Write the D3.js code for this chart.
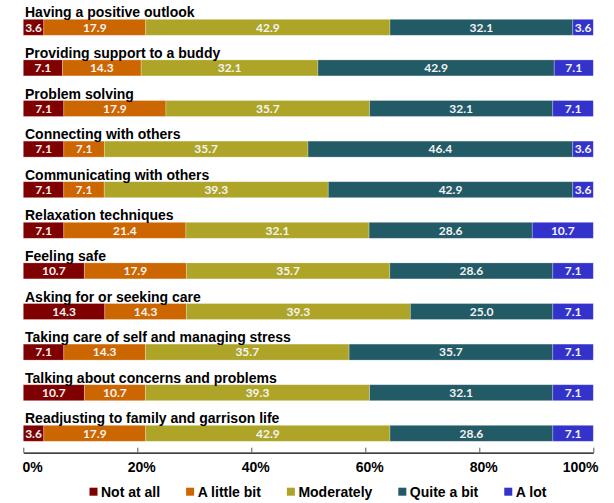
<!DOCTYPE html>
<html>
<head>
<meta charset="utf-8">
<script src="https://cdn.jsdelivr.net/npm/d3@7"></script>
<style>
  body { margin: 0; background: #fff; }
  .row-label { font-family: "Liberation Sans", Arial, sans-serif; font-weight: bold; font-size: 14px; fill: #000; }
  .value-label { font-family: Lato, "Open Sans", sans-serif; font-weight: bold; font-size: 12px; fill: #f4f4f4; }
  .axis text { font-family: "Liberation Sans", Arial, sans-serif; font-weight: bold; font-size: 14px; fill: #000; }
  .legend text { font-family: "Liberation Sans", Arial, sans-serif; font-weight: bold; font-size: 14px; fill: #000; }
</style>
</head>
<body>
<div id="chart"></div>
<script>
const width = 614, height = 503;

// categories (top to bottom)
const items = [
  "Having a positive outlook",
  "Providing support to a buddy",
  "Problem solving",
  "Connecting with others",
  "Communicating with others",
  "Relaxation techniques",
  "Feeling safe",
  "Asking for or seeking care",
  "Taking care of self and managing stress",
  "Talking about concerns and problems",
  "Readjusting to family and garrison life"
];

// series
const levels = ["Not at all", "A little bit", "Moderately", "Quite a bit", "A lot"];
const notAtAll   = [3.6, 7.1, 7.1, 7.1, 7.1, 7.1, 10.7, 14.3, 7.1, 10.7, 3.6];
const littleBit  = [17.9, 14.3, 17.9, 7.1, 7.1, 21.4, 17.9, 14.3, 14.3, 10.7, 17.9];
const moderately = [42.9, 32.1, 35.7, 35.7, 39.3, 32.1, 35.7, 39.3, 35.7, 39.3, 42.9];
const quiteABit  = [32.1, 42.9, 32.1, 46.4, 42.9, 28.6, 28.6, 25.0, 35.7, 32.1, 28.6];
const aLot       = [3.6, 7.1, 7.1, 3.6, 3.6, 10.7, 7.1, 7.1, 7.1, 7.1, 7.1];

// tick labels
const xTicks = [0, 0.2, 0.4, 0.6, 0.8, 1];

const colors = ["#7f0000", "#cc6600", "#ada428", "#225a66", "#3333cc"];

// table for d3.stack
const series = [notAtAll, littleBit, moderately, quiteABit, aLot];
const table = items.map((name, i) => {
  const row = {name: name};
  levels.forEach((l, k) => row[l] = series[k][i]);
  return row;
});

const svg = d3.select("#chart")
  .append("svg")
    .attr("width", width)
    .attr("height", height);

const x = d3.scaleLinear()
  .domain([0, 1])
  .range([23.3, 593.3]);

const y = d3.scaleBand()
  .domain(items)
  .range([19.3, 441.3])
  .paddingInner(0.606)
  .paddingOuter(0);

const color = d3.scaleOrdinal()
  .domain(levels)
  .range(colors);

// 100% stacked
const stacked = d3.stack()
  .keys(levels)
  .offset(d3.stackOffsetExpand)(table);

const layers = svg.append("g")
  .selectAll("g")
  .data(stacked)
  .join("g")
    .attr("fill", d => color(d.key));

layers.selectAll("rect")
  .data(d => d.map(p => Object.assign(p, {key: d.key})))
  .join("rect")
    .attr("x", d => x(d[0]))
    .attr("y", d => y(d.data.name))
    .attr("width", d => x(d[1]) - x(d[0]))
    .attr("height", y.bandwidth())
    .attr("stroke", "#ffffff")
    .attr("stroke-opacity", 0.35)
    .attr("stroke-width", 0.75);

// values inside the segments
layers.selectAll("text")
  .data(d => d)
  .join("text")
    .attr("class", "value-label")
    .attr("text-anchor", "middle")
    .attr("x", d => (x(d[0]) + x(d[1])) / 2)
    .attr("y", d => y(d.data.name) + y.bandwidth() / 2)
    .attr("dy", "0.36em")
    .text(d => d3.format(".1f")(d.data[d.key]));

// row labels above each bar
svg.append("g")
  .selectAll("text")
  .data(items)
  .join("text")
    .attr("class", "row-label")
    .attr("x", x(0) + 1.7)
    .attr("y", d => y(d) - 2)
    .text(d => d);

// X axis
const axis = svg.append("g")
  .attr("class", "axis")
  .attr("transform", "translate(0, 452.7)")
  .call(d3.axisBottom(x)
    .tickValues(xTicks)
    .tickFormat(d3.format(".0%"))
    .tickSizeInner(-5)
    .tickSizeOuter(0)
    .tickPadding(9));
axis.select(".domain").attr("stroke", "#000").attr("stroke-width", 1.3);
axis.selectAll(".tick line").attr("stroke", "#555");
// end labels are kept inside the plot, middle ones sit a bit right
axis.selectAll(".tick text")
  .attr("text-anchor", (d, i) => i === 0 ? "start" : (i === xTicks.length - 1 ? "end" : "middle"))
  .attr("dx", (d, i) => i === 0 ? -1.3 : (i === xTicks.length - 1 ? 4.7 : 4));

// legend
const legend = svg.append("g")
  .attr("class", "legend")
  .attr("transform", "translate(89.5, 491.7)");

let lx = 0;
levels.forEach(l => {
  const item = legend.append("g").attr("transform", `translate(${lx}, 0)`);
  item.append("rect")
    .attr("x", 0)
    .attr("y", -4)
    .attr("width", 8)
    .attr("height", 8)
    .attr("fill", color(l));
  const t = item.append("text")
    .attr("x", 11.5)
    .attr("dy", "0.36em")
    .text(l);
  lx += 11.5 + t.node().getComputedTextLength() + 26;
});
</script>
</body>
</html>
